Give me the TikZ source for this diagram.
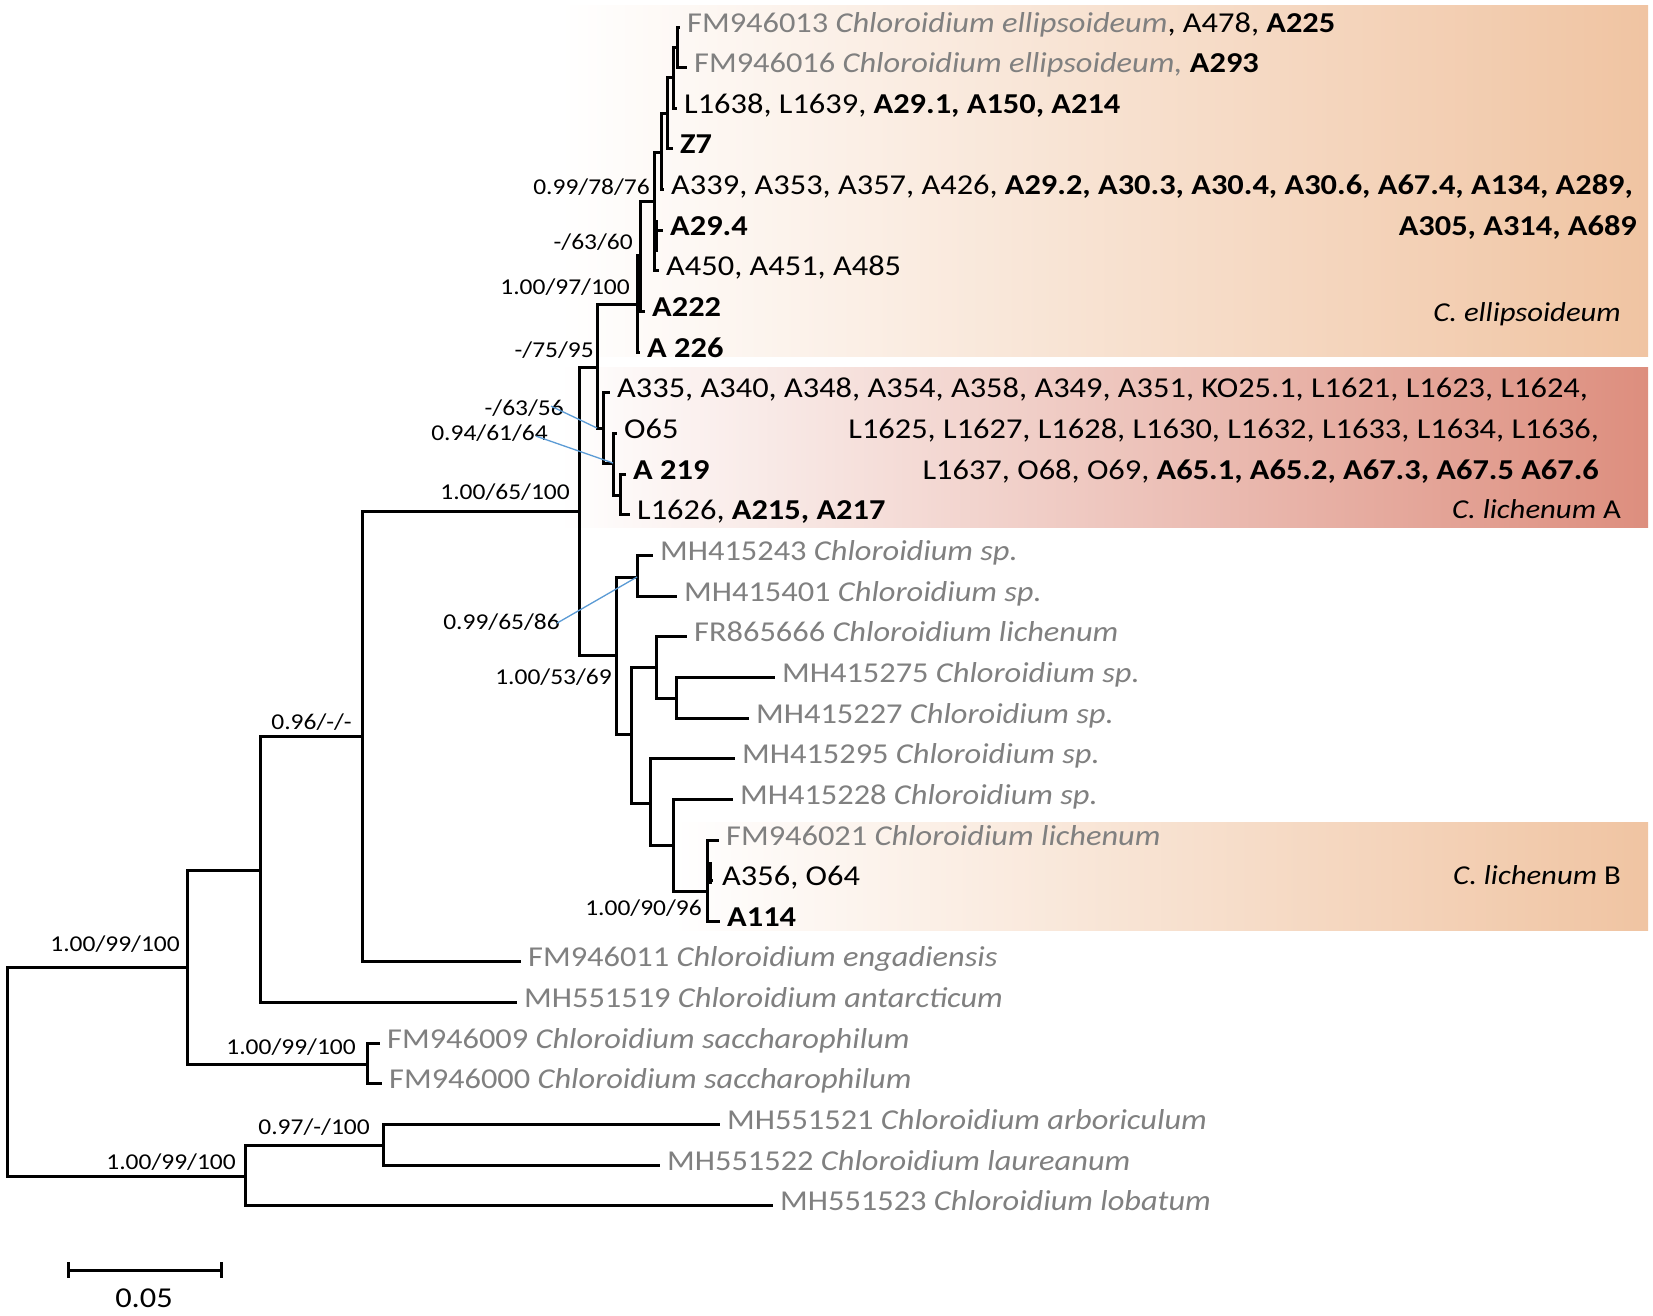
\documentclass[tikz,border=0pt]{standalone}
\usepackage{fontspec}
\setmainfont{Carlito}[FakeStretch=1.125]
\definecolor{lg}{RGB}{128,128,128}
\definecolor{ellc}{RGB}{240,196,162}
\definecolor{lica}{RGB}{221,142,126}
\definecolor{bl}{RGB}{91,155,213}
\newcommand{\gt}[1]{{\color{lg}#1}}
\begin{document}
\begin{tikzpicture}[x=1pt,y=-1pt,
 br/.style={line width=3pt, line join=miter},
 leaf/.style={anchor=base west, inner sep=0pt, font=\fontsize{28.8}{34}\selectfont},
 leafr/.style={anchor=base east, inner sep=0pt, font=\fontsize{28.8}{34}\selectfont},
 cladelab/.style={anchor=base east, inner sep=0pt, font=\fontsize{27.3}{34}\selectfont},
 sup/.style={anchor=base east, inner sep=0pt, font=\fontsize{22.65}{28}\selectfont},
 bluelink/.style={draw=bl, line width=1.3pt}]
\useasboundingbox (0,0) rectangle (1653,1315);
\fill[white] (0,0) rectangle (1653,1315);
% clade backgrounds
\shade[left color=white,right color=ellc] (560,5) rectangle (1648,356);
\shade[left color=white,right color=lica] (560,367) rectangle (1648,527);
\shade[left color=white,right color=ellc] (673,822) rectangle (1648,930);
% internal nodes
\coordinate (root) at (7,1071.5);
\coordinate (n1) at (187,967);
\coordinate (n4) at (245,1176);
\coordinate (n2) at (260,870);
\coordinate (sac) at (367,1064);
\coordinate (n5) at (383,1145);
\coordinate (n3) at (362,736);
\coordinate (n6) at (579,511);
\coordinate (n15) at (597,367);
\coordinate (n7) at (616,655);
\coordinate (n16) at (637,304);
\coordinate (n17) at (640,255);
\coordinate (ne) at (654,201);
\coordinate (nd) at (661,152);
\coordinate (nc) at (667,113);
\coordinate (nb) at (673,77);
\coordinate (na) at (677,47);
\coordinate (la) at (603,428);
\coordinate (lb) at (613,463);
\coordinate (lc) at (620,495);
\coordinate (n8) at (637,577);
\coordinate (n9) at (631,734);
\coordinate (n10) at (656,667);
\coordinate (n11) at (676,698);
\coordinate (n12) at (650,803);
\coordinate (n13) at (673,845);
\coordinate (n14) at (707,891);
% leaf tips
\coordinate (t0) at (680,27);
\coordinate (t1) at (687,67.65);
\coordinate (t2) at (677,108.3);
\coordinate (t3) at (673,148.95);
\coordinate (t4) at (664,189.6);
\coordinate (t5) at (663,230.25);
\coordinate (t6) at (659,270.9);
\coordinate (t7) at (645,311.55);
\coordinate (t8) at (640,352.2);
\coordinate (t9) at (610,392.85);
\coordinate (t10) at (617,433.5);
\coordinate (t11) at (626,474.15);
\coordinate (t12) at (630,514.8);
\coordinate (t13) at (653,555.45);
\coordinate (t14) at (677,596.1);
\coordinate (t15) at (687,636.75);
\coordinate (t16) at (775,677.4);
\coordinate (t17) at (749,718.05);
\coordinate (t18) at (735,758.7);
\coordinate (t19) at (733,799.35);
\coordinate (t20) at (719,840);
\coordinate (t21) at (713,880.65);
\coordinate (t22) at (720,921.3);
\coordinate (t23) at (521,961.95);
\coordinate (t24) at (517,1002.6);
\coordinate (t25) at (380,1043.25);
\coordinate (t26) at (382,1083.9);
\coordinate (t27) at (720,1124.55);
\coordinate (t28) at (660,1165.2);
\coordinate (t29) at (773,1205.85);
% branches
\draw[br] (root) |- (n1); \draw[br] (root) |- (n4);
\draw[br] (n1) |- (n2); \draw[br] (n1) |- (sac);
\draw[br] (n2) |- (n3); \draw[br] (n2) |- (t24);
\draw[br] (n3) |- (n6); \draw[br] (n3) |- (t23);
\draw[br] (n6) |- (n15); \draw[br] (n6) |- (n7);
\draw[br] (n15) |- (n16); \draw[br] (n15) |- (la);
\draw[br] (n16) |- (n17); \draw[br] (n16) |- (t8);
\draw[br] (n17) |- (ne); \draw[br] (n17) |- (t7);
\draw[br] (ne) |- (nd); \draw[br] (ne) |- (t5); \draw[br] (ne) |- (t6);
\draw[br] (nd) |- (nc); \draw[br] (nd) |- (t4);
\draw[br] (nc) |- (nb); \draw[br] (nc) |- (t3);
\draw[br] (nb) |- (na); \draw[br] (nb) |- (t2);
\draw[br] (na) |- (t0); \draw[br] (na) |- (t1);
\draw[br] (la) |- (t9); \draw[br] (la) |- (lb);
\draw[br] (lb) |- (t10); \draw[br] (lb) |- (lc);
\draw[br] (lc) |- (t11); \draw[br] (lc) |- (t12);
\draw[br] (n7) |- (n8); \draw[br] (n7) |- (n9);
\draw[br] (n8) |- (t13); \draw[br] (n8) |- (t14);
\draw[br] (n9) |- (n10); \draw[br] (n9) |- (n12);
\draw[br] (n10) |- (t15); \draw[br] (n10) |- (n11);
\draw[br] (n11) |- (t16); \draw[br] (n11) |- (t17);
\draw[br] (n12) |- (t18); \draw[br] (n12) |- (n13);
\draw[br] (n13) |- (t19); \draw[br] (n13) |- (n14);
\draw[br] (n14) |- (t20); \draw[br] (n14) |- (t21); \draw[br] (n14) |- (t22);
\draw[br] (sac) |- (t25); \draw[br] (sac) |- (t26);
\draw[br] (n4) |- (n5); \draw[br] (n4) |- (t29);
\draw[br] (n5) |- (t27); \draw[br] (n5) |- (t28);
% small thickened bits
\coordinate (k1) at (656.5,220); \coordinate (k2) at (656.5,252);
\draw[br] (k1) -- (k2);
\coordinate (k3) at (710,862); \coordinate (k4) at (710,884);
\draw[br] (k3) -- (k4);
% leaf labels
\node[leaf] (l0) at ([xshift=7pt,yshift=-5pt]t0) {\gt{FM946013 \textit{Chloroidium ellipsoideum}}, A478, \textbf{A225}};
\node[leaf] (l1) at ([xshift=7pt,yshift=-5pt]t1) {\gt{FM946016 \textit{Chloroidium ellipsoideum,}} \textbf{A293}};
\node[leaf] (l2) at ([xshift=7pt,yshift=-5pt]t2) {L1638, L1639, \textbf{A29.1, A150, A214}};
\node[leaf] (l3) at ([xshift=7pt,yshift=-5pt]t3) {\textbf{Z7}};
\node[leaf] (l4) at ([xshift=7pt,yshift=-5pt]t4) {A339, A353, A357, A426, \textbf{A29.2, A30.3, A30.4, A30.6, A67.4, A134, A289,}};
\node[leafr] (l4b) at (1637,235.25) {\textbf{A305, A314, A689}};
\node[leaf] (l5) at ([xshift=7pt,yshift=-5pt]t5) {\textbf{A29.4}};
\node[leaf] (l6) at ([xshift=7pt,yshift=-5pt]t6) {A450, A451, A485};
\node[leaf] (l7) at ([xshift=7pt,yshift=-5pt]t7) {\textbf{A222}};
\node[leaf] (l8) at ([xshift=7pt,yshift=-5pt]t8) {\textbf{A 226}};
\node[leaf] (l9) at ([xshift=7pt,yshift=-5pt]t9) {A335, A340, A348, A354, A358, A349, A351, KO25.1, L1621, L1623, L1624,};
\node[leafr] (l9b) at (1599,438.5) {L1625, L1627, L1628, L1630, L1632, L1633, L1634, L1636,};
\node[leafr] (l9c) at (1599,479.15) {L1637, O68, O69, \textbf{A65.1, A65.2, A67.3, A67.5 A67.6}};
\node[leaf] (l10) at ([xshift=7pt,yshift=-5pt]t10) {O65};
\node[leaf] (l11) at ([xshift=7pt,yshift=-5pt]t11) {\textbf{A 219}};
\node[leaf] (l12) at ([xshift=7pt,yshift=-5pt]t12) {L1626, \textbf{A215, A217}};
\node[leaf] (l13) at ([xshift=7pt,yshift=-5pt]t13) {\gt{MH415243 \textit{Chloroidium sp.}}};
\node[leaf] (l14) at ([xshift=7pt,yshift=-5pt]t14) {\gt{MH415401 \textit{Chloroidium sp.}}};
\node[leaf] (l15) at ([xshift=7pt,yshift=-5pt]t15) {\gt{FR865666 \textit{Chloroidium lichenum}}};
\node[leaf] (l16) at ([xshift=7pt,yshift=-5pt]t16) {\gt{MH415275 \textit{Chloroidium sp.}}};
\node[leaf] (l17) at ([xshift=7pt,yshift=-5pt]t17) {\gt{MH415227 \textit{Chloroidium sp.}}};
\node[leaf] (l18) at ([xshift=7pt,yshift=-5pt]t18) {\gt{MH415295 \textit{Chloroidium sp.}}};
\node[leaf] (l19) at ([xshift=7pt,yshift=-5pt]t19) {\gt{MH415228 \textit{Chloroidium sp.}}};
\node[leaf] (l20) at ([xshift=7pt,yshift=-5pt]t20) {\gt{FM946021 \textit{Chloroidium lichenum}}};
\node[leaf] (l21) at ([xshift=9pt,yshift=-5pt]t21) {A356, O64};
\node[leaf] (l22) at ([xshift=7pt,yshift=-5pt]t22) {\textbf{A114}};
\node[leaf] (l23) at ([xshift=7pt,yshift=-5pt]t23) {\gt{FM946011 \textit{Chloroidium engadiensis}}};
\node[leaf] (l24) at ([xshift=7pt,yshift=-5pt]t24) {\gt{MH551519 \textit{Chloroidium antarcticum}}};
\node[leaf] (l25) at ([xshift=7pt,yshift=-5pt]t25) {\gt{FM946009 \textit{Chloroidium saccharophilum}}};
\node[leaf] (l26) at ([xshift=7pt,yshift=-5pt]t26) {\gt{FM946000 \textit{Chloroidium saccharophilum}}};
\node[leaf] (l27) at ([xshift=7pt,yshift=-5pt]t27) {\gt{MH551521 \textit{Chloroidium arboriculum}}};
\node[leaf] (l28) at ([xshift=7pt,yshift=-5pt]t28) {\gt{MH551522 \textit{Chloroidium laureanum}}};
\node[leaf] (l29) at ([xshift=7pt,yshift=-5pt]t29) {\gt{MH551523 \textit{Chloroidium lobatum}}};
% clade labels
\node[cladelab] (ce) at (1621,321) {\textit{C. ellipsoideum}};
\node[cladelab] (cla) at (1621,518) {\textit{C. lichenum} A};
\node[cladelab] (clb) at (1621,884) {\textit{C. lichenum} B};
% support values
\node[sup] (s1) at (180,951.5) {1.00/99/100};
\node[sup] (s2) at (352,729.5) {0.96/-/-};
\node[sup] (s3) at (570,499.5) {1.00/65/100};
\node[sup] (s4) at (594,357.5) {-/75/95};
\node[sup] (s5) at (630,294.5) {1.00/97/100};
\node[sup] (s6) at (633,249.5) {-/63/60};
\node[sup] (s7) at (650,194.5) {0.99/78/76};
\node[sup] (s8) at (564,415.5) {-/63/56};
\node[sup] (s9) at (548,440.5) {0.94/61/64};
\node[sup] (s10) at (560,629.5) {0.99/65/86};
\node[sup] (s11) at (612,684.5) {1.00/53/69};
\node[sup] (s12) at (702,915.5) {1.00/90/96};
\node[sup] (s13) at (356,1054.5) {1.00/99/100};
\node[sup] (s14) at (370,1134.5) {0.97/-/100};
\node[sup] (s15) at (236,1169.5) {1.00/99/100};
% blue leader lines
\draw[bluelink] ([xshift=-13pt,yshift=2pt]s8.east) -- (n15 |- la);
\draw[bluelink] ([xshift=-12pt,yshift=-3pt]s9.east) -- (lb);
\draw[bluelink] ([xshift=-3pt,yshift=-1pt]s10.east) -- (n8);
% scale bar
\coordinate (sb1) at (68,1270); \coordinate (sb2) at (221,1270);
\draw[line width=3pt] (sb1) -- (sb2);
\draw[line width=3pt] ([yshift=8pt]sb1) -- ([yshift=-8pt]sb1);
\draw[line width=3pt] ([yshift=8pt]sb2) -- ([yshift=-8pt]sb2);
\node[inner sep=0pt, font=\fontsize{28.8}{34}\selectfont] (sbl) at (144,1298) {0.05};
\end{tikzpicture}
\end{document}
